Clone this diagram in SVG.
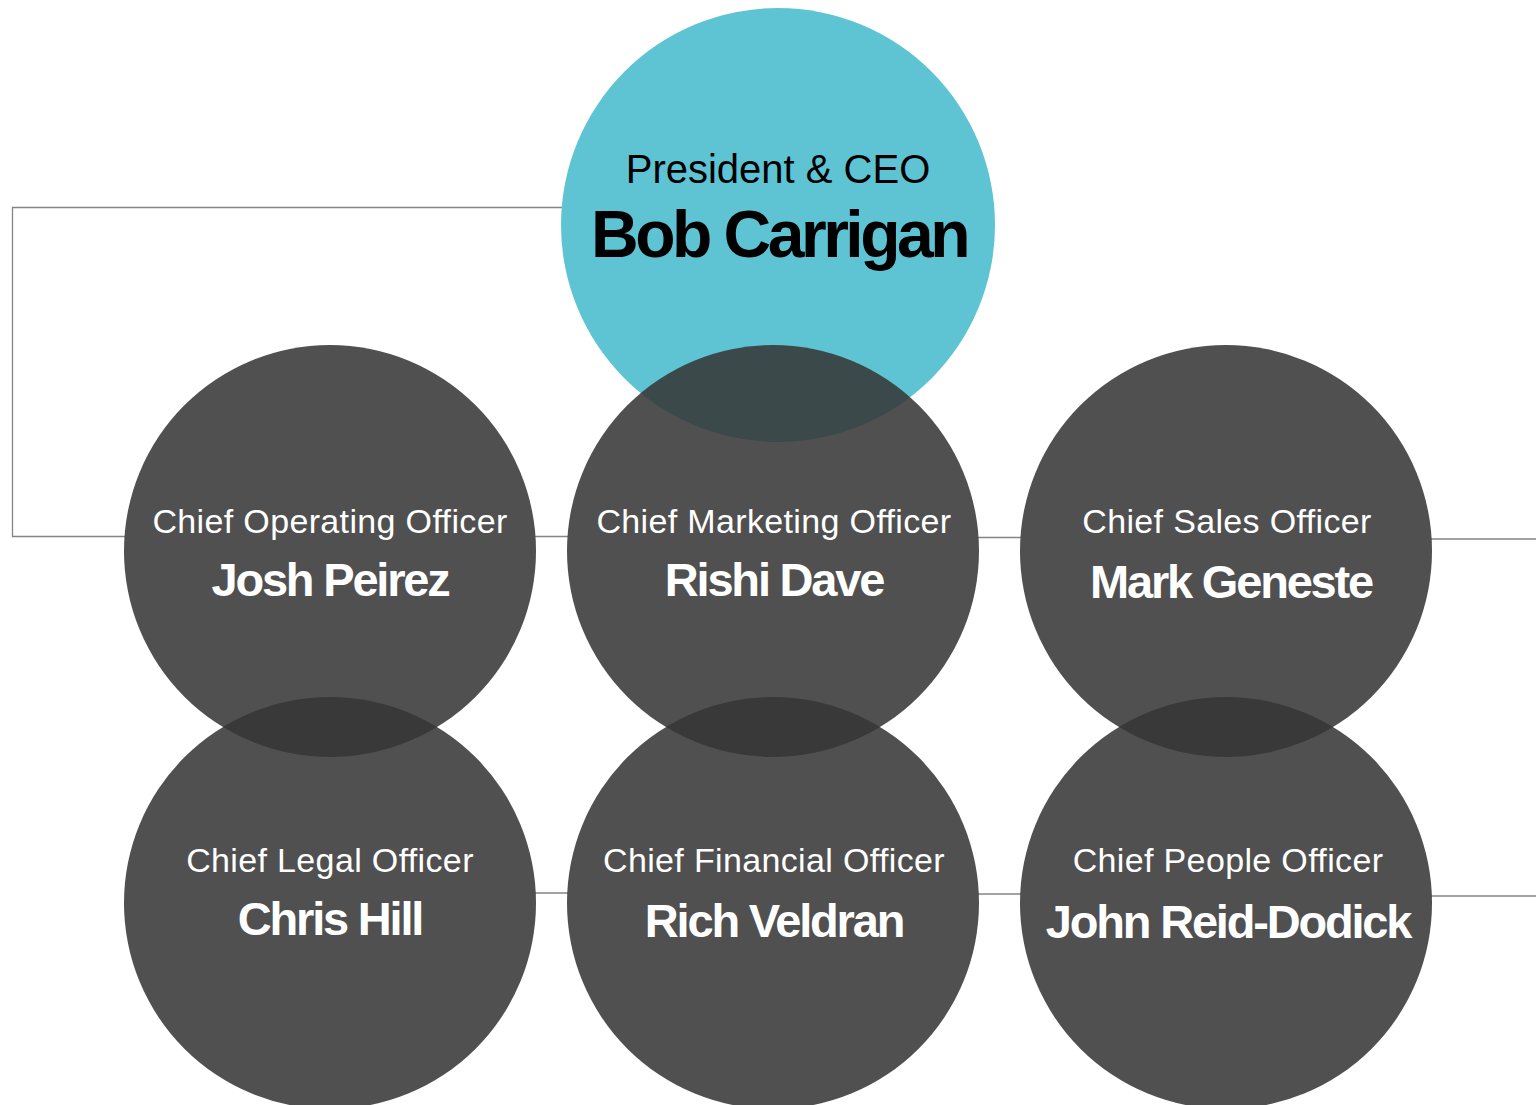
<svg xmlns="http://www.w3.org/2000/svg" width="1536" height="1105" viewBox="0 0 1536 1105">
  <style>
    .conn { fill: none; stroke: #858585; stroke-width: 1.3; }
    .ceo { fill: #5ec4d3; }
    .exec { fill: #363636; fill-opacity: 0.87; }
    .t-ceo { font-family: "Liberation Sans", Arial, sans-serif; font-size: 40px; fill: #000; text-anchor: middle; }
    .n-ceo { font-family: "Liberation Sans", Arial, sans-serif; font-size: 66px; font-weight: bold; fill: #000; text-anchor: middle; letter-spacing: -3.5px; }
    .title { font-family: "Liberation Sans", Arial, sans-serif; font-size: 34px; fill: #fff; text-anchor: middle; letter-spacing: 0.35px; }
    .name { font-family: "Liberation Sans", Arial, sans-serif; font-size: 47px; font-weight: bold; fill: #fff; text-anchor: middle; letter-spacing: -2.2px; }
  </style>

  <!-- reporting lines: only the stretches between circles are drawn -->
  <g id="connectors">
    <polyline class="conn" points="562,207.5 12.5,207.5 12.5,536.5 125,536.5"/>
    <line class="conn" x1="535" y1="536.5" x2="568" y2="536.5"/>
    <line class="conn" x1="978" y1="537.5" x2="1021" y2="537.5"/>
    <line class="conn" x1="1431" y1="539" x2="1536" y2="539"/>
    <line class="conn" x1="535" y1="893" x2="568" y2="893"/>
    <line class="conn" x1="978" y1="894" x2="1021" y2="894"/>
    <line class="conn" x1="1431" y1="896" x2="1536" y2="896"/>
  </g>

  <g id="ceo">
    <circle class="ceo" cx="778" cy="225" r="217"/>
    <text class="t-ceo" x="778" y="183">President &amp; CEO</text>
    <text class="n-ceo" x="779" y="257">Bob Carrigan</text>
  </g>

  <g id="coo">
    <circle class="exec" cx="330" cy="551" r="206"/>
    <text class="title" x="330" y="533">Chief Operating Officer</text>
    <text class="name" x="330" y="596">Josh Peirez</text>
  </g>

  <g id="cmo">
    <circle class="exec" cx="773" cy="551" r="206"/>
    <text class="title" x="774" y="533">Chief Marketing Officer</text>
    <text class="name" x="774" y="596">Rishi Dave</text>
  </g>

  <g id="cso">
    <circle class="exec" cx="1226" cy="551" r="206"/>
    <text class="title" x="1227" y="533">Chief Sales Officer</text>
    <text class="name" x="1231" y="598">Mark Geneste</text>
  </g>

  <g id="clo">
    <circle class="exec" cx="330" cy="903" r="206"/>
    <text class="title" x="330" y="872">Chief Legal Officer</text>
    <text class="name" x="330" y="935">Chris Hill</text>
  </g>

  <g id="cfo">
    <circle class="exec" cx="773" cy="903" r="206"/>
    <text class="title" x="774" y="872">Chief Financial Officer</text>
    <text class="name" x="774" y="937">Rich Veldran</text>
  </g>

  <g id="cpo">
    <circle class="exec" cx="1226" cy="903" r="206"/>
    <text class="title" x="1228" y="872">Chief People Officer</text>
    <text class="name" x="1228" y="938">John Reid-Dodick</text>
  </g>
</svg>
